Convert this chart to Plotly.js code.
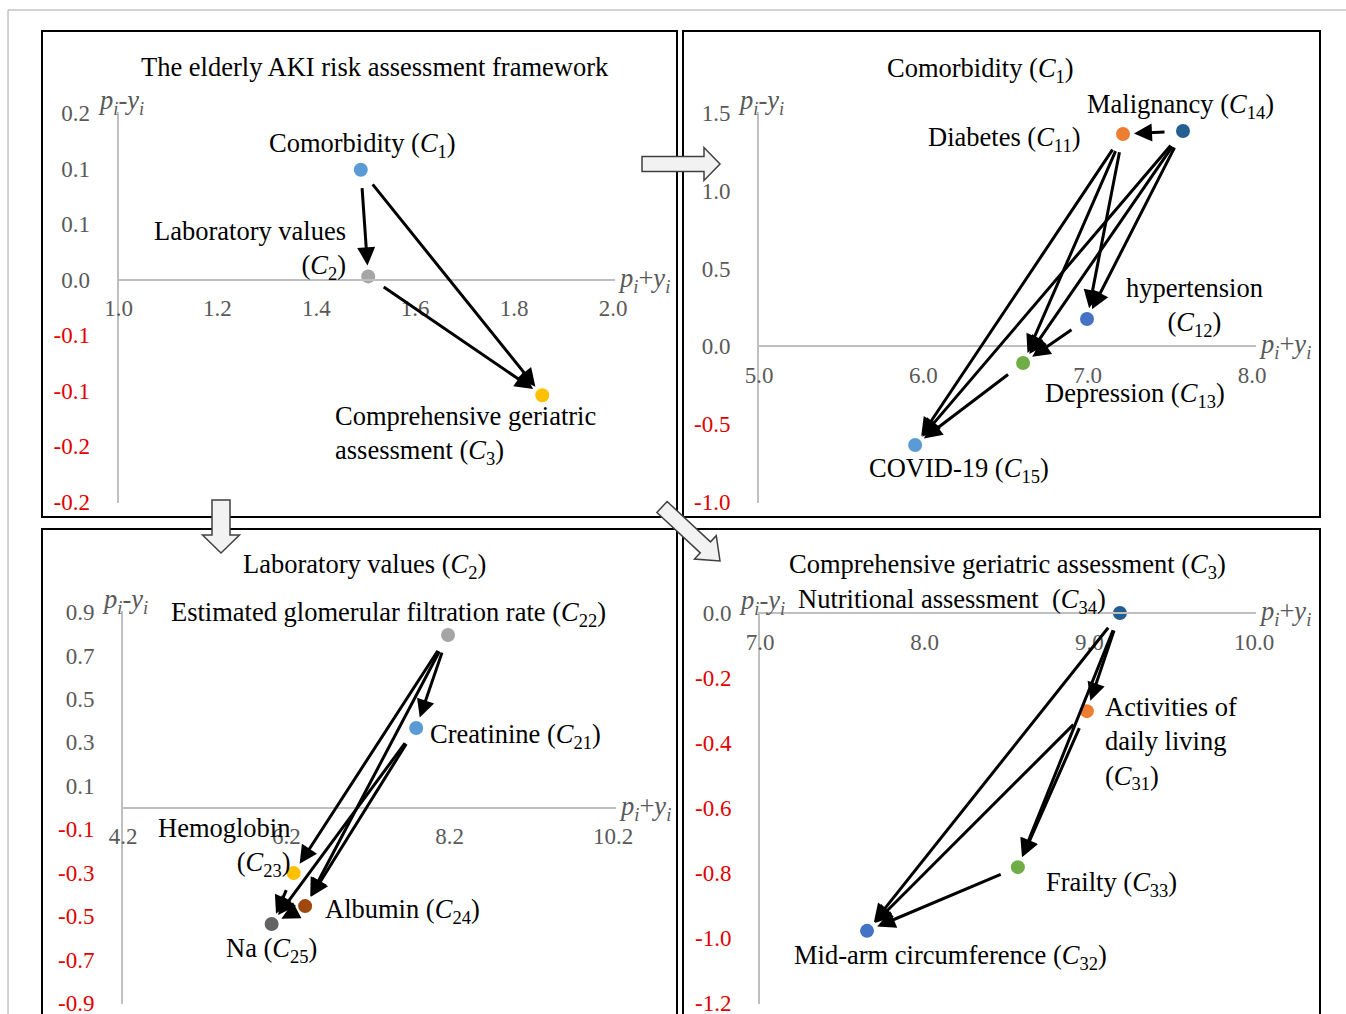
<!DOCTYPE html>
<html>
<head>
<meta charset="utf-8">
<script src="https://cdn.plot.ly/plotly-3.0.1.min.js"></script>
<style>html,body{margin:0;padding:0;background:#fff;}#chart{width:1346px;height:1014px;}</style>
</head>
<body>
<div id="chart"></div>
<script>
// ---------------- DATA ----------------
// Panel 1: The elderly AKI risk assessment framework
const p1Title = 'The elderly AKI risk assessment framework';
const p1Names = ['Comorbidity (<i>C</i><sub>1</sub>)', 'Laboratory values<br>(<i>C</i><sub>2</sub>)', 'Comprehensive geriatric<br>assessment (<i>C</i><sub>3</sub>)'];
const p1X = [1.49, 1.505, 1.857];
const p1Y = [0.099, 0.003, -0.104];
const p1Edges = [[0, 1], [0, 2], [1, 2]];
const p1XTicks = [1.0, 1.2, 1.4, 1.6, 1.8, 2.0];
const p1XTickText = ['1.0', '1.2', '1.4', '1.6', '1.8', '2.0'];
const p1YTicks = [0.15, 0.10, 0.05, 0.0, -0.05, -0.10, -0.15, -0.20];
const p1YTickText = ['0.2', '0.1', '0.1', '0.0', '-0.1', '-0.1', '-0.2', '-0.2'];

// Panel 2: Comorbidity (C1)
const p2Title = 'Comorbidity (<i>C</i><sub>1</sub>)';
const p2Names = ['Diabetes (<i>C</i><sub>11</sub>)', 'hypertension<br>(<i>C</i><sub>12</sub>)', 'Depression (<i>C</i><sub>13</sub>)', 'Malignancy (<i>C</i><sub>14</sub>)', 'COVID-19 (<i>C</i><sub>15</sub>)'];
const p2X = [7.215, 6.996, 6.607, 7.58, 5.95];
const p2Y = [1.365, 0.176, -0.107, 1.384, -0.634];
const p2Edges = [[3, 0], [3, 1], [3, 2], [3, 4], [0, 1], [0, 2], [0, 4], [1, 2], [2, 4]];
const p2XTicks = [5.0, 6.0, 7.0, 8.0];
const p2XTickText = ['5.0', '6.0', '7.0', '8.0'];
const p2YTicks = [1.5, 1.0, 0.5, 0.0, -0.5, -1.0];
const p2YTickText = ['1.5', '1.0', '0.5', '0.0', '-0.5', '-1.0'];

// Panel 3: Laboratory values (C2)
const p3Title = 'Laboratory values (<i>C</i><sub>2</sub>)';
const p3Names = ['Creatinine (<i>C</i><sub>21</sub>)', 'Estimated glomerular filtration rate (<i>C</i><sub>22</sub>)', 'Hemoglobin<br>(<i>C</i><sub>23</sub>)', 'Albumin (<i>C</i><sub>24</sub>)', 'Na (<i>C</i><sub>25</sub>)'];
const p3X = [7.79, 8.18, 6.29, 6.43, 6.02];
const p3Y = [0.366, 0.794, -0.302, -0.454, -0.536];
const p3Edges = [[1, 0], [1, 2], [1, 3], [0, 3], [0, 4], [2, 4], [3, 4]];
const p3XTicks = [4.2, 6.2, 8.2, 10.2];
const p3XTickText = ['4.2', '6.2', '8.2', '10.2'];
const p3YTicks = [0.9, 0.7, 0.5, 0.3, 0.1, -0.1, -0.3, -0.5, -0.7, -0.9];
const p3YTickText = ['0.9', '0.7', '0.5', '0.3', '0.1', '-0.1', '-0.3', '-0.5', '-0.7', '-0.9'];

// Panel 4: Comprehensive geriatric assessment (C3)
const p4Title = 'Comprehensive geriatric assessment (<i>C</i><sub>3</sub>)';
const p4Names = ['Activities of<br>daily living<br>(<i>C</i><sub>31</sub>)', 'Mid-arm circumference (<i>C</i><sub>32</sub>)', 'Frailty (<i>C</i><sub>33</sub>)', 'Nutritional assessment  (<i>C</i><sub>34</sub>)'];
const p4X = [8.985, 7.65, 8.566, 9.186];
const p4Y = [-0.302, -0.978, -0.782, 0.0];
const p4Edges = [[3, 0], [3, 2], [3, 1], [0, 2], [0, 1], [2, 1]];
const p4XTicks = [7.0, 8.0, 9.0, 10.0];
const p4XTickText = ['7.0', '8.0', '9.0', '10.0'];
const p4YTicks = [0.0, -0.2, -0.4, -0.6, -0.8, -1.0, -1.2];
const p4YTickText = ['0.0', '-0.2', '-0.4', '-0.6', '-0.8', '-1.0', '-1.2'];

// ---------------- STYLE / LAYOUT ----------------
const W = 1346, H = 1014;
const FONT = 'Liberation Serif, Times New Roman, serif';
const GRAY = '#595959', RED = '#E00000', AXIS = '#BFBFBF';
const LABEL_SIZE = 26.5, TICK_SIZE = 23;
const fx = px => px / W;
const fy = py => 1 - py / H;

const colors = {
  p1: ['#5B9BD5', '#A5A5A5', '#FFC000'],
  p2: ['#ED7D31', '#4472C4', '#70AD47', '#255E91', '#5B9BD5'],
  p3: ['#5B9BD5', '#A5A5A5', '#FFC000', '#9E480E', '#636363'],
  p4: ['#ED7D31', '#4472C4', '#70AD47', '#255E91']
};
// label placement relative to marker (px): [xanchor, xshift, yshift, align]
const labelPos = {
  p1: [['center', 2, 25, 'center'], ['right', -20, 26, 'right'], ['left', -209, -40, 'left']],
  p2: [['right', -40, -5, 'right'], ['center', 107, 12, 'center'], ['center', 112, -32, 'center'], ['center', -2, 25, 'center'], ['center', 44, -25, 'center']],
  p3: [['left', 12, -8, 'left'], ['center', -60, 21, 'center'], ['right', -1, 26, 'right'], ['left', 18, -5, 'left'], ['center', 0, -26, 'center']],
  p4: [['left', 16, -32, 'left'], ['center', 83, -26, 'center'], ['left', 26, -17, 'left'], ['right', -12, 12, 'right']]
};
// pixel geometry of each panel's axes: value->pixel anchors and axis extents
const geom = {
  p1: {x: [1.0, 118.5, 2.0, 613, 118.5, 615], y: [0.15, 113, -0.20, 502, 112, 503], title: [375, 67]},
  p2: {x: [5.0, 759, 8.0, 1252, 759, 1256], y: [1.5, 113, -1.0, 502, 112, 503], title: [980, 70]},
  p3: {x: [4.2, 123, 10.2, 613, 123, 616], y: [0.9, 612, -0.9, 1003, 611, 1004], title: [364, 566]},
  p4: {x: [7.0, 760, 10.0, 1254, 760, 1256], y: [0.0, 613, -1.2, 1003, 612, 1004], title: [1007, 566]}
};

const panels = [
  {key: 'p1', xa: 'x', ya: 'y', title: p1Title, names: p1Names, X: p1X, Y: p1Y, edges: p1Edges, xt: p1XTicks, xtt: p1XTickText, yt: p1YTicks, ytt: p1YTickText},
  {key: 'p2', xa: 'x2', ya: 'y2', title: p2Title, names: p2Names, X: p2X, Y: p2Y, edges: p2Edges, xt: p2XTicks, xtt: p2XTickText, yt: p2YTicks, ytt: p2YTickText},
  {key: 'p3', xa: 'x3', ya: 'y3', title: p3Title, names: p3Names, X: p3X, Y: p3Y, edges: p3Edges, xt: p3XTicks, xtt: p3XTickText, yt: p3YTicks, ytt: p3YTickText},
  {key: 'p4', xa: 'x4', ya: 'y4', title: p4Title, names: p4Names, X: p4X, Y: p4Y, edges: p4Edges, xt: p4XTicks, xtt: p4XTickText, yt: p4YTicks, ytt: p4YTickText}
];

const traces = [];
const annotations = [];
const layout = {
  width: W, height: H,
  margin: {l: 0, r: 0, t: 0, b: 0},
  paper_bgcolor: '#ffffff', plot_bgcolor: 'rgba(0,0,0,0)',
  showlegend: false,
  font: {family: FONT, size: LABEL_SIZE, color: '#000'},
  annotations: annotations,
  shapes: []
};

const colorTick = t => (t.charAt(0) === '-') ? '<span style="color:' + RED + '">' + t + '</span>' : t;

panels.forEach(p => {
  const g = geom[p.key];
  const [xv0, xp0, xv1, xp1, xd0, xd1] = g.x;
  const [yv0, yp0, yv1, yp1, yd0, yd1] = g.y;
  const xval = px => xv0 + (px - xp0) * (xv1 - xv0) / (xp1 - xp0);
  const yval = py => yv0 + (py - yp0) * (yv1 - yv0) / (yp1 - yp0);
  const ypx = v => yp0 + (v - yv0) * (yp1 - yp0) / (yv1 - yv0);
  const zeroPx = ypx(0);
  const xName = 'xaxis' + p.xa.slice(1);
  const yName = 'yaxis' + p.ya.slice(1);
  layout[xName] = {
    domain: [fx(xd0), fx(xd1)], range: [xval(xd0), xval(xd1)],
    anchor: 'free', position: fy(zeroPx),
    showgrid: false, zeroline: false, showline: true, linecolor: AXIS, linewidth: 2,
    ticks: '', tickmode: 'array', tickvals: p.xt, ticktext: p.xtt,
    ticklabelstandoff: 8, ticklabeloverflow: 'allow',
    tickfont: {family: FONT, size: TICK_SIZE, color: GRAY}, fixedrange: true
  };
  layout[yName] = {
    domain: [fy(yd1), fy(yd0)], range: [yval(yd1), yval(yd0)],
    anchor: p.xa,
    showgrid: false, zeroline: false, showline: true, linecolor: AXIS, linewidth: 2,
    ticks: '', tickmode: 'array', tickvals: p.yt, ticktext: p.ytt.map(colorTick),
    ticklabelstandoff: 22, ticklabeloverflow: 'allow',
    tickfont: {family: FONT, size: TICK_SIZE, color: GRAY}, fixedrange: true
  };
  traces.push({
    type: 'scatter', mode: 'markers', x: p.X, y: p.Y, xaxis: p.xa, yaxis: p.ya,
    marker: {size: 14, color: colors[p.key]}, cliponaxis: false, hoverinfo: 'skip'
  });
  // arrows
  p.edges.forEach(([s, t]) => {
    annotations.push({
      xref: p.xa, yref: p.ya, axref: p.xa, ayref: p.ya,
      x: p.X[t], y: p.Y[t], ax: p.X[s], ay: p.Y[s],
      text: '', showarrow: true, arrowhead: 2, arrowsize: 1.2, arrowwidth: 3,
      arrowcolor: '#000', standoff: 11, startstandoff: 17
    });
  });
  // point labels
  p.names.forEach((n, i) => {
    const [xa, xs, ys, al] = labelPos[p.key][i];
    annotations.push({
      xref: p.xa, yref: p.ya, x: p.X[i], y: p.Y[i], text: n, showarrow: false,
      xanchor: xa, yanchor: 'middle', xshift: xs, yshift: ys, align: al,
      font: {family: FONT, size: LABEL_SIZE, color: '#000'}
    });
  });
  // panel title
  annotations.push({
    xref: 'paper', yref: 'paper', x: fx(g.title[0]), y: fy(g.title[1]), text: p.title,
    showarrow: false, xanchor: 'center', yanchor: 'middle',
    font: {family: FONT, size: LABEL_SIZE, color: '#000'}
  });
  // axis titles
  annotations.push({
    xref: 'paper', yref: 'paper', x: fx(xd0), y: fy(yd0), text: '<i>p<sub>i</sub></i>-<i>y<sub>i</sub></i>',
    showarrow: false, xanchor: 'center', yanchor: 'middle', xshift: 2, yshift: 10,
    font: {family: FONT, size: LABEL_SIZE, color: GRAY}
  });
  annotations.push({
    xref: 'paper', yref: 'paper', x: fx(xd1), y: fy(zeroPx), text: '<i>p<sub>i</sub></i>+<i>y<sub>i</sub></i>',
    showarrow: false, xanchor: 'left', yanchor: 'middle', xshift: 1,
    font: {family: FONT, size: LABEL_SIZE, color: GRAY}
  });
});

// outer frame and panel boxes
const rectPx = (x0, y0, x1, y1, color, w) => ({
  type: 'rect', xref: 'paper', yref: 'paper', x0: fx(x0), x1: fx(x1), y0: fy(y0), y1: fy(y1),
  line: {color: color, width: w}, fillcolor: 'rgba(0,0,0,0)', layer: 'above'
});
layout.shapes.push(rectPx(8, 10, 1352, 1020, '#A6A6A6', 1));
layout.shapes.push(rectPx(42, 31, 677, 517, '#000', 2));
layout.shapes.push(rectPx(683, 31, 1320, 517, '#000', 2));
layout.shapes.push(rectPx(42, 529, 677, 1020, '#000', 2));
layout.shapes.push(rectPx(683, 529, 1320, 1020, '#000', 2));

// hollow block arrows between panels
function blockArrow(tx, ty, hx, hy, bw, hw, hl) {
  const L = Math.hypot(hx - tx, hy - ty);
  const ux = (hx - tx) / L, uy = (hy - ty) / L;
  const nx = -uy, ny = ux;
  const bx = hx - ux * hl, by = hy - uy * hl;
  const pts = [
    [tx + nx * bw, ty + ny * bw], [bx + nx * bw, by + ny * bw], [bx + nx * hw, by + ny * hw],
    [hx, hy], [bx - nx * hw, by - ny * hw], [bx - nx * bw, by - ny * bw], [tx - nx * bw, ty - ny * bw]
  ];
  const path = 'M' + pts.map(q => fx(q[0]).toFixed(5) + ',' + fy(q[1]).toFixed(5)).join('L') + 'Z';
  return {type: 'path', xref: 'paper', yref: 'paper', path: path, fillcolor: '#F2F2F2',
    line: {color: '#404040', width: 1.5}, layer: 'above'};
}
layout.shapes.push(blockArrow(642, 164, 720, 164, 7.5, 16.5, 16));
layout.shapes.push(blockArrow(221, 500, 221, 553, 9, 18.5, 18));
layout.shapes.push(blockArrow(662, 507, 720, 561, 7.5, 16, 20));

Plotly.newPlot('chart', traces, layout, {displayModeBar: false, staticPlot: true});
</script>
</body>
</html>
